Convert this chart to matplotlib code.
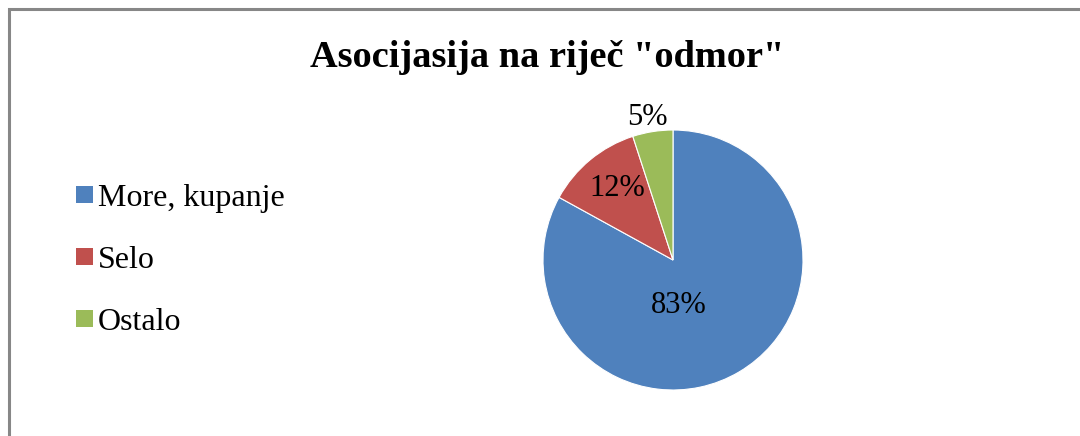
import matplotlib
matplotlib.use("Agg")
import matplotlib.pyplot as plt
from matplotlib.patches import Rectangle

title = 'Asocijasija na riječ "odmor"'
categories = ["More, kupanje", "Selo", "Ostalo"]
values = [83, 12, 5]
colors = ["#4F81BD", "#C0504D", "#9BBB59"]

W, H = 1080, 436
fig = plt.figure(figsize=(W / 100, H / 100), dpi=100)
ax = fig.add_axes([0, 0, 1, 1])
ax.set_xlim(0, W)
ax.set_ylim(0, H)
ax.set_aspect("equal")
ax.axis("off")

serif = ["Liberation Serif", "DejaVu Serif"]

# outer border (extends past right and bottom edges)
ax.add_patch(Rectangle((9, -20), W + 40, H - 9.5 + 20, fill=False,
                       edgecolor="#878787", linewidth=2.2, zorder=0))

cx, cy, r = 673, H - 260, 130
wedges, texts, autotexts = ax.pie(
    values, colors=colors, startangle=90, counterclock=False,
    center=(cx, cy), radius=r, frame=True,
    autopct=lambda p: f"{p:.0f}%", pctdistance=0.6,
    wedgeprops=dict(edgecolor="white", linewidth=0.8),
    textprops=dict(fontsize=22, family=serif, color="black"),
)
ax.axis("off")
ax.set_xlim(0, W)
ax.set_ylim(0, H)

# label positions (x centre, baseline y in pixels from top)
label_pos = [(679, 313), (617, 196), (647, 125)]
for t, (x, y) in zip(autotexts, label_pos):
    t.set_position((x, H - y))
    t.set_ha("center")
    t.set_va("baseline")

ax.text(547, H - 67, title, ha="center", va="baseline", fontsize=27.6,
        fontweight="bold", family=serif)

# legend
for i, (lab, col) in enumerate(zip(categories, colors)):
    base = 206 + i * 62
    ax.add_patch(Rectangle((76, H - base + 3), 17, 17, facecolor=col,
                           edgecolor="none"))
    ax.text(98, H - base, lab, ha="left", va="baseline", fontsize=23,
            family=serif)

fig.savefig("out.png", dpi=100)
